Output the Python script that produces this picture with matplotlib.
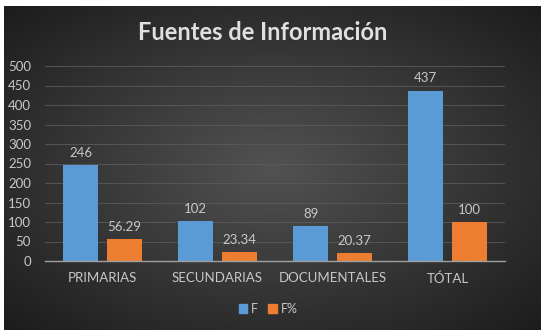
import numpy as np
import matplotlib
matplotlib.use("Agg")
import matplotlib.pyplot as plt
from matplotlib.patches import Patch

categories = ["PRIMARIAS", "SECUNDARIAS", "DOCUMENTALES", "TÓTAL"]
f_values = [246, 102, 89, 437]
fpct_values = [56.29, 23.34, 20.37, 100]
f_labels = ["246", "102", "89", "437"]
fpct_labels = ["56.29", "23.34", "20.37", "100"]
series_names = ["F", "F%"]
yticks = [0, 50, 100, 150, 200, 250, 300, 350, 400, 450, 500]

plt.rcParams['font.family'] = ['Lato', 'DejaVu Sans']

W, H = 546, 334
fig = plt.figure(figsize=(W / 100, H / 100), dpi=100)
fig.patch.set_facecolor("white")

# dark radial-gradient panel
bg = fig.add_axes([4 / W, 1 - 330 / H, (541 - 4) / W, (330 - 6) / H])
nx, ny = 400, 240
xx, yy = np.meshgrid(np.linspace(-1, 1, nx), np.linspace(-1, 1, ny))
r = np.sqrt(xx ** 2 + yy ** 2) / np.sqrt(2)
inner = np.array([0x52, 0x52, 0x52]) / 255
outer = np.array([0x1c, 0x1c, 0x1c]) / 255
img = inner[None, None, :] * (1 - r[..., None]) + outer[None, None, :] * r[..., None]
bg.imshow(img, aspect="auto", extent=[0, 1, 0, 1])
bg.set_axis_off()

ax = fig.add_axes([45 / W, 1 - 261 / H, (505 - 45) / W, (261 - 66) / H])
ax.patch.set_alpha(0)
x = np.arange(len(categories))
bw = 0.30
gap = 0.08
blue = "#5B9BD5"
orange = "#ED7D31"
b1 = ax.bar(x - (bw + gap) / 2, f_values, bw, color=blue, zorder=3)
b2 = ax.bar(x + (bw + gap) / 2, fpct_values, bw, color=orange, zorder=3)

txtc = "#c8c8c8"
for rect, lab in zip(b1, f_labels):
    ax.text(rect.get_x() + rect.get_width() / 2, rect.get_height() + 16, lab,
            ha="center", va="bottom", color=txtc, fontsize=9.5)
for rect, lab in zip(b2, fpct_labels):
    ax.text(rect.get_x() + rect.get_width() / 2, rect.get_height() + 16, lab,
            ha="center", va="bottom", color=txtc, fontsize=9.5)

ax.set_xlim(-0.5, len(categories) - 0.5)
ax.set_ylim(0, 500)
ax.set_yticks(yticks)
ax.set_yticklabels([str(t) for t in yticks])
ax.set_xticks(x)
ax.set_xticklabels(categories)
ax.tick_params(axis="both", colors=txtc, labelsize=9.5, length=0)
ax.tick_params(axis="x", pad=8)
ax.tick_params(axis="y", pad=10)
ax.grid(axis="y", color="#5a5a5a", linewidth=0.6, zorder=0)
for s in ["top", "right", "left"]:
    ax.spines[s].set_visible(False)
ax.spines["bottom"].set_color("#a0a0a0")
ax.spines["bottom"].set_linewidth(1)
ax.spines["bottom"].set_zorder(4)

title = fig.text(263 / W, 1 - 33 / H, "Fuentes de Información",
                 ha="center", va="center", color="#e0e0e0", fontsize=17,
                 fontweight="bold")

handles = [Patch(color=blue), Patch(color=orange)]
fig.legend(handles, series_names, loc="center", bbox_to_anchor=(268 / W, 1 - 309 / H),
           ncol=2, frameon=False, fontsize=9, labelcolor=txtc,
           handlelength=0.7, handleheight=0.7, handletextpad=0.3, columnspacing=0.8)

fig.savefig("out.png", dpi=100)
